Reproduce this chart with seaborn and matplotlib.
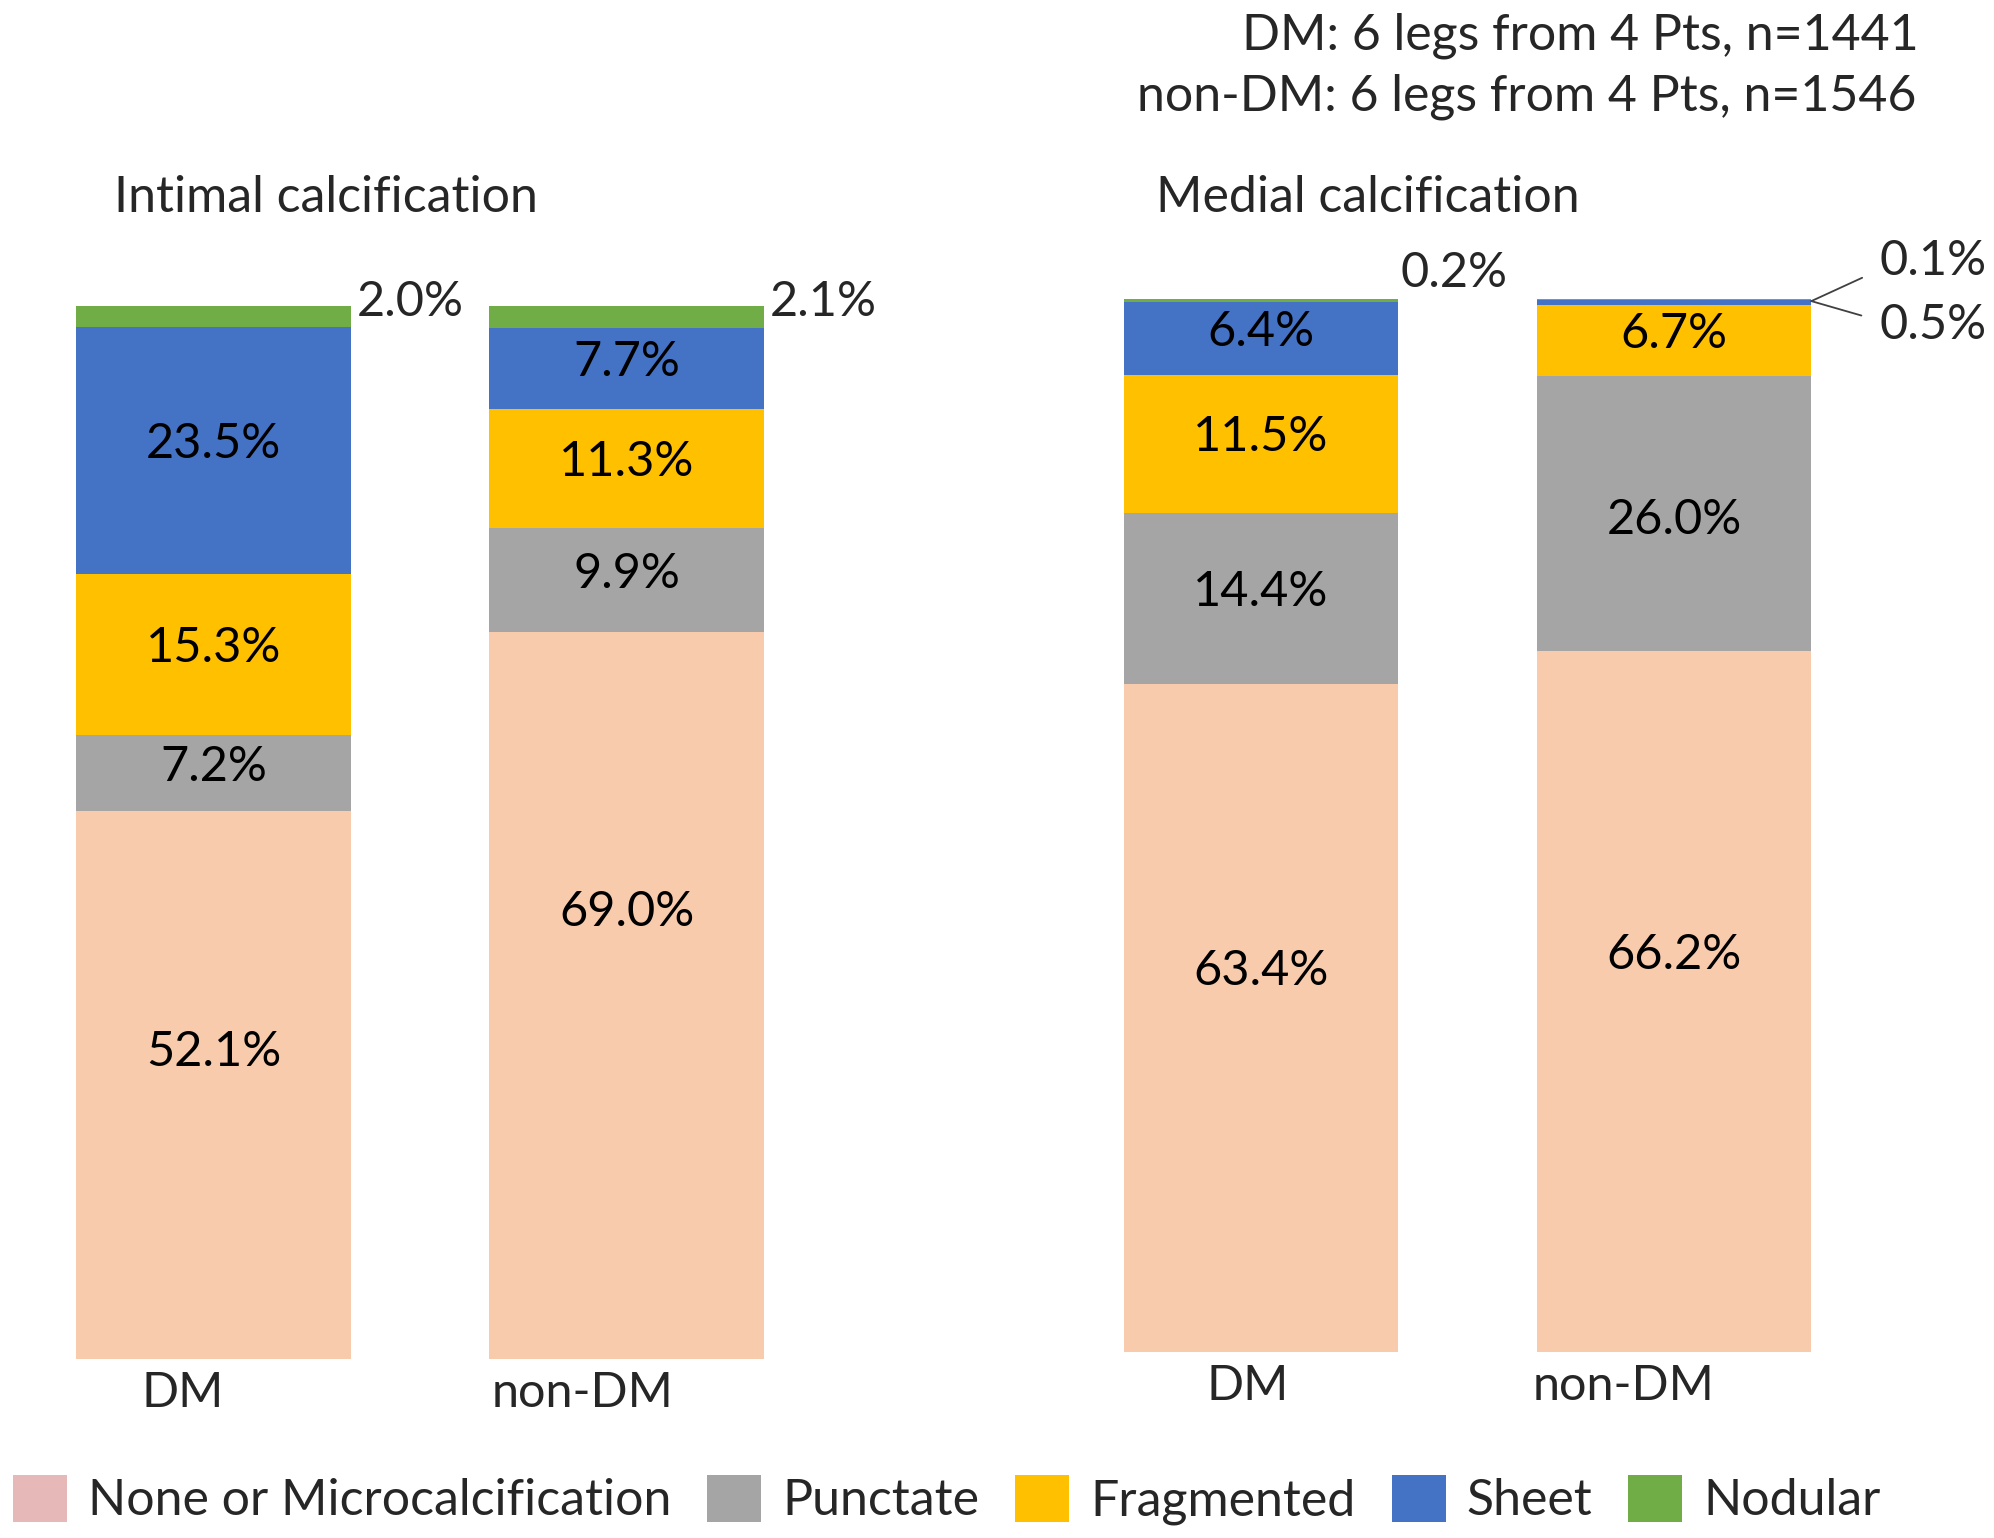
import numpy as np
import pandas as pd
import matplotlib
matplotlib.use("Agg")
import matplotlib.pyplot as plt
import seaborn as sns
from matplotlib.patches import Patch

groups = ["DM", "non-DM"]
types = ["None or Microcalcification", "Punctate", "Fragmented", "Sheet", "Nodular"]
bar_colors = ["#F8CBAD", "#A5A5A5", "#FFC000", "#4472C4", "#70AD47"]
legend_colors = ["#E6B9B8", "#A5A5A5", "#FFC000", "#4472C4", "#70AD47"]

# percentages as printed on the chart
intimal_dm = [52.1, 7.2, 15.3, 23.5, 2.0]
intimal_non_dm = [69.0, 9.9, 11.3, 7.7, 2.1]
medial_dm = [63.4, 14.4, 11.5, 6.4, 0.2]
medial_non_dm = [66.2, 26.0, 6.7, 0.5, 0.1]
# the medial DM column is drawn taller than its labels add up to
medial_dm_drawn = [63.4, 16.3, 13.1, 6.9, 0.3]

note_lines = ["DM: 6 legs from 4 Pts, n=1441", "non-DM: 6 legs from 4 Pts, n=1546"]

sns.set_theme(style="white")
plt.rcParams["font.family"] = ["Lato", "DejaVu Sans"]
FS = 35     # value labels, group names
FS_T = 36   # titles, notes, legend

rows = []


def add(panel, group, labels, heights):
    heights = np.array(heights) / np.sum(heights) * 100  # 100% stacked
    for t, lab, h in zip(types, labels, heights):
        rows.append(dict(panel=panel, group=group, type=t, label=lab, share=h))


add("Intimal calcification", "DM", intimal_dm, intimal_dm)
add("Intimal calcification", "non-DM", intimal_non_dm, intimal_non_dm)
add("Medial calcification", "DM", medial_dm, medial_dm_drawn)
add("Medial calcification", "non-DM", medial_non_dm, medial_non_dm)

df = pd.DataFrame(rows)
df["bottom"] = df.groupby(["panel", "group"])["share"].cumsum() - df["share"]

W, H = 1994, 1538
fig = plt.figure(figsize=(W / 100, H / 100), dpi=100)

# axes placed in pixel units of the reference: left, bottom, width, height, title x
ax_specs = {
    "Intimal calcification": [7, 1359, 826, 1053, 114],
    "Medial calcification": [1054.5, 1352, 826, 1053, 1156],
}
# group name offsets under each bar (pixels)
name_dx = {
    "Intimal calcification": [-31, -44],
    "Medial calcification": [-13, -50],
}
# value labels that the original moved away from the segment centre (pixels, up)
label_dy = {
    ("Intimal calcification", "DM", "None or Microcalcification"): 27,
    ("Intimal calcification", "non-DM", "None or Microcalcification"): 77,
    ("Medial calcification", "DM", "None or Microcalcification"): 41,
    ("Medial calcification", "non-DM", "None or Microcalcification"): 40,
    ("Medial calcification", "non-DM", "Punctate"): -12,
}
# small labels outside the bars: (dx, dy) in pixels, leader line or not
outside = {
    ("Intimal calcification", "DM", "Nodular"): (6, 4, False),
    ("Intimal calcification", "non-DM", "Nodular"): (6, 4, False),
    ("Medial calcification", "DM", "Nodular"): (2, 26, False),
    ("Medial calcification", "non-DM", "Nodular"): (68, 40, True),
    ("Medial calcification", "non-DM", "Sheet"): (68, -24, True),
}

bw = 0.665
for panel, (x0, ybot, w, h, tx) in ax_specs.items():
    ax = fig.add_axes([x0 / W, (H - ybot) / H, w / W, h / H])
    d = df[df.panel == panel]
    for t, c in zip(types, bar_colors):
        sub = d[d.type == t]
        sns.barplot(data=sub, x="group", y="share", order=groups,
                    bottom=sub["bottom"].to_numpy(), color=c, width=bw,
                    saturation=1, errorbar=None, linewidth=0, ax=ax)
    ax.set_xlim(-0.5, 1.5)
    ax.set_ylim(0, 100)
    ax.set_yticks([])
    ax.set_xticks([])
    ax.set_xlabel("")
    ax.set_ylabel("")
    sns.despine(ax=ax, left=True, bottom=True)

    for i, g in enumerate(groups):
        ax.annotate(g, xy=(i, 0), xytext=(name_dx[panel][i], -34),
                    textcoords="offset pixels", ha="center", va="center",
                    fontsize=FS, annotation_clip=False)

    for _, r in d.iterrows():
        i = groups.index(r.group)
        txt = f"{r.label:.1f}%"
        if r.label >= 5:
            ax.annotate(txt, xy=(i, r.bottom + r.share / 2 + 0.6),
                        xytext=(0, label_dy.get((panel, r.group, r.type), 0)),
                        textcoords="offset pixels", ha="center", va="center",
                        fontsize=FS, color="black")
        else:
            dx, dy, line = outside[(panel, r.group, r.type)]
            yy = r.bottom + r.share if not line else 99.8
            arrow = None
            if line:
                arrow = dict(arrowstyle="-", color="#404040", lw=1.3,
                             shrinkA=11, shrinkB=0,
                             relpos=(0, 0.3 if dy > 0 else 0.6))
            ax.annotate(txt, xy=(i + bw / 2, yy), xytext=(dx, dy),
                        textcoords="offset pixels", ha="left", va="center",
                        fontsize=FS, annotation_clip=False, arrowprops=arrow)

    fig.text(tx / W, 1 - 198 / H, panel, ha="left", va="center", fontsize=FS_T)

fig.text(1919 / W, 1 - 36 / H, note_lines[0], ha="right", va="center", fontsize=FS_T)
fig.text(1916 / W, 1 - 97 / H, note_lines[1], ha="right", va="center", fontsize=FS_T)

handles = [Patch(facecolor=c, edgecolor="none") for c in legend_colors]
fig.legend(handles, types, loc="center left", bbox_to_anchor=(13 / W, 1 - 1500 / H),
           ncol=5, frameon=False, fontsize=FS_T, handlelength=1.08, handleheight=1.05,
           handletextpad=0.42, columnspacing=0.72, borderaxespad=0, borderpad=0)

fig.savefig("out.png", dpi=100)
